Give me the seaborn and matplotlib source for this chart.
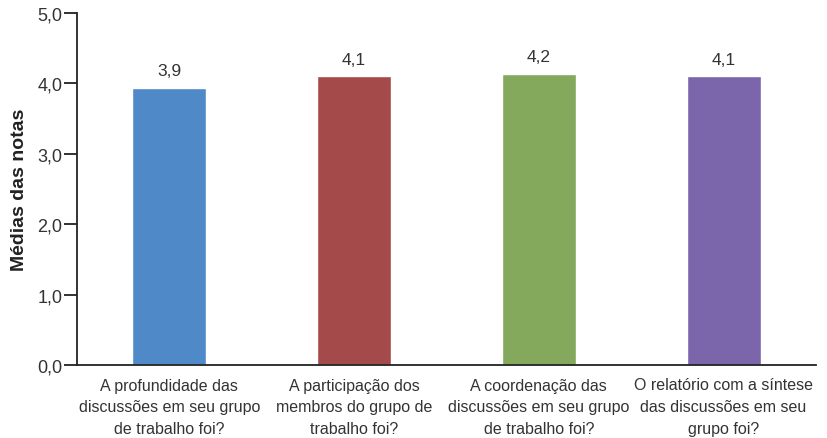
import matplotlib
matplotlib.use("Agg")
import matplotlib.pyplot as plt
import seaborn as sns
import pandas as pd

categories = [
    "A profundidade das\ndiscussões em seu grupo\nde trabalho foi?",
    "A participação dos\nmembros do grupo de\ntrabalho foi?",
    "A coordenação das\ndiscussões em seu grupo\nde trabalho foi?",
    "O relatório com a síntese\ndas discussões em seu\ngrupo foi?",
]
values = [3.94, 4.10, 4.14, 4.10]
value_labels = ["3,9", "4,1", "4,2", "4,1"]
colors = ["#4F89C8", "#A54A4A", "#84A95D", "#7B65AB"]
yticks = [0, 1, 2, 3, 4, 5]
ytick_labels = ["0,0", "1,0", "2,0", "3,0", "4,0", "5,0"]
ylabel = "Médias das notas"

sns.set_theme(style="white")
plt.rcParams["font.family"] = ["Liberation Sans", "DejaVu Sans"]

df = pd.DataFrame({"cat": categories, "val": values})

fig = plt.figure(figsize=(8.27, 4.39), dpi=100)
ax = fig.add_axes([77 / 827, 1 - 366 / 439, (816 - 77) / 827, (366 - 14) / 439])
sns.barplot(data=df, x="cat", y="val", hue="cat", palette=colors, legend=False,
            width=0.4, saturation=1, ax=ax)

text_color = "#333333"
for i, (v, lab) in enumerate(zip(values, value_labels)):
    ax.annotate(lab, (i, v), xytext=(0, 7), textcoords="offset points",
                ha="center", va="bottom", fontsize=12.5, color=text_color)

ax.set_xlim(-0.5, 3.5)
ax.set_ylim(0, 5)
ax.set_yticks(yticks)
ax.set_yticklabels(ytick_labels, fontsize=13, color=text_color)
ax.tick_params(axis="y", length=9.5, width=1.3, color="#222222", pad=1, left=True)
ax.tick_params(axis="x", length=0, pad=9)
ax.set_xticks(range(len(categories)))
ax.set_xticklabels(categories, fontsize=11.5, color=text_color, linespacing=1.55)
ax.set_xlabel("")
ax.set_ylabel(ylabel, fontsize=14, fontweight="bold", color="#222222", labelpad=7)
for s in ["top", "right"]:
    ax.spines[s].set_visible(False)
for s in ["left", "bottom"]:
    ax.spines[s].set_color("#222222")
    ax.spines[s].set_linewidth(1.3)

fig.savefig("out.png", dpi=100)
